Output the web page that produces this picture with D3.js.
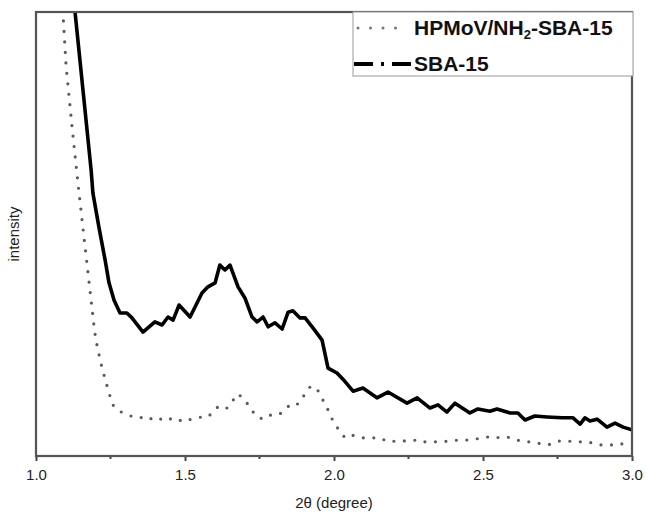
<!DOCTYPE html>
<html>
<head>
<meta charset="utf-8">
<script src="https://cdn.jsdelivr.net/npm/d3@7"></script>
<style>
  body { margin: 0; background: #fff; }
  svg { display: block; font-family: "Liberation Sans", Arial, sans-serif; }
</style>
</head>
<body>
<div id="chart"></div>
<script>
const width = 646;
const height = 515;
const margin = { top: 12, right: 14, bottom: 59, left: 36 };

// SBA-15 (solid line) : 2theta, intensity (a.u.)
const sbaTheta = [1.120, 1.131, 1.185, 1.191, 1.211, 1.232, 1.245, 1.262, 1.282, 1.305, 1.322, 1.359, 1.399, 1.423, 1.443, 1.460,
  1.480, 1.517, 1.557, 1.577, 1.601, 1.617, 1.634, 1.651, 1.678, 1.701, 1.725, 1.742, 1.762, 1.779, 1.802, 1.826,
  1.846, 1.862, 1.886, 1.903, 1.930, 1.960, 1.980, 2.010, 2.030, 2.064, 2.097, 2.144, 2.181, 2.245, 2.279, 2.322,
  2.349, 2.379, 2.406, 2.456, 2.483, 2.523, 2.547, 2.591, 2.617, 2.641, 2.674, 2.715, 2.765, 2.802, 2.826, 2.842,
  2.859, 2.883, 2.916, 2.943, 2.970, 3.000];
const sbaValue = [110.0, 100.0, 64.4, 59.2, 51.6, 44.1, 39.0, 35.1, 32.2, 32.2, 31.1, 27.9, 30.2, 29.5, 31.3, 30.6,
  34.0, 31.3, 36.7, 38.1, 39.0, 43.0, 41.9, 43.0, 38.1, 35.6, 31.3, 30.2, 31.3, 29.1, 30.0, 28.6,
  32.4, 32.7, 31.1, 31.1, 28.8, 26.1, 19.8, 18.7, 17.3, 14.6, 15.3, 13.1, 14.4, 11.9, 13.1, 10.8,
  11.5, 9.9, 11.9, 9.7, 10.6, 10.1, 10.6, 9.7, 9.7, 8.1, 9.0, 8.8, 8.6, 8.6, 7.2, 8.6,
  7.9, 8.3, 6.5, 7.4, 6.5, 5.9];

// HPMoV/NH2-SBA-15 (dotted line)
const hpmTheta = [1.087, 1.091, 1.101, 1.121, 1.134, 1.144, 1.158, 1.181, 1.195, 1.201, 1.211, 1.221, 1.245, 1.258, 1.279, 1.319,
  1.339, 1.376, 1.399, 1.436, 1.460, 1.497, 1.520, 1.557, 1.577, 1.614, 1.641, 1.678, 1.701, 1.738, 1.762, 1.795,
  1.819, 1.859, 1.879, 1.919, 1.940, 1.980, 2.000, 2.037, 2.060, 2.097, 2.121, 2.154, 2.181, 2.215, 2.238, 2.282,
  2.295, 2.332, 2.356, 2.396, 2.416, 2.456, 2.473, 2.517, 2.534, 2.581, 2.601, 2.641, 2.658, 2.698, 2.718, 2.758,
  2.775, 2.819, 2.836, 2.876, 2.896, 2.936, 2.953, 2.993];
const hpmValue = [102.7, 99.1, 87.8, 74.1, 65.8, 59.5, 51.1, 37.4, 29.1, 26.1, 23.0, 20.0, 14.2, 11.5, 10.1, 9.0,
  9.0, 8.1, 8.8, 7.9, 8.6, 7.7, 8.3, 8.8, 8.8, 11.3, 10.8, 14.0, 12.6, 9.0, 8.3, 9.5,
  9.5, 11.9, 11.7, 15.5, 15.5, 10.4, 7.4, 4.1, 4.7, 4.1, 4.1, 4.1, 3.2, 3.4, 3.4, 3.6,
  3.2, 3.2, 3.2, 3.4, 3.6, 3.6, 3.8, 4.3, 4.1, 4.3, 3.8, 3.2, 3.2, 2.7, 2.5, 3.4,
  3.4, 3.2, 3.2, 2.9, 2.5, 2.5, 2.5, 3.2];

const xTicks = [1.0, 1.5, 2.0, 2.5, 3.0];
const legendLabels = ["HPMoV/NH", "SBA-15"];

const svg = d3.select("#chart")
    .append("svg")
    .attr("width", width)
    .attr("height", height);

const x = d3.scaleLinear()
    .domain([1.0, 3.0])
    .range([margin.left, width - margin.right]);

const y = d3.scaleLinear()
    .domain([0, 100])
    .range([height - margin.bottom, margin.top]);

svg.append("clipPath")
    .attr("id", "plot-clip")
    .append("rect")
    .attr("x", margin.left)
    .attr("y", margin.top)
    .attr("width", width - margin.left - margin.right)
    .attr("height", height - margin.top - margin.bottom);

const line = d3.line()
    .x(d => x(d[0]))
    .y(d => y(d[1]));

const plot = svg.append("g").attr("clip-path", "url(#plot-clip)");

// dotted series
plot.append("path")
    .datum(d3.zip(hpmTheta, hpmValue))
    .attr("d", line)
    .attr("fill", "none")
    .attr("stroke", "#5a5a5a")
    .attr("stroke-width", 3.2)
    .attr("stroke-linecap", "round")
    .attr("stroke-dasharray", "0 10.5");

// solid series
plot.append("path")
    .datum(d3.zip(sbaTheta, sbaValue))
    .attr("d", line)
    .attr("fill", "none")
    .attr("stroke", "#000")
    .attr("stroke-width", 3.6)
    .attr("stroke-linejoin", "round");

// x axis with minor ticks
const xAxis = svg.append("g")
    .attr("transform", `translate(0,${height - margin.bottom})`)
    .call(d3.axisBottom(x).tickValues(xTicks).tickFormat(d3.format(".1f")).tickSize(5).tickPadding(8));
xAxis.select(".domain").remove();
xAxis.selectAll("text")
    .attr("font-size", 15)
    .attr("font-family", "Liberation Sans, Arial, sans-serif")
    .attr("fill", "#222");
xAxis.selectAll("line").attr("stroke", "#444").attr("stroke-width", 2);

svg.append("g")
    .attr("transform", `translate(0,${height - margin.bottom})`)
    .selectAll("line")
    .data([1.25, 1.75, 2.25, 2.75])
    .join("line")
    .attr("x1", d => x(d))
    .attr("x2", d => x(d))
    .attr("y1", 0)
    .attr("y2", 3)
    .attr("stroke", "#444")
    .attr("stroke-width", 2);

// frame
svg.append("rect")
    .attr("x", margin.left)
    .attr("y", margin.top)
    .attr("width", width - margin.left - margin.right)
    .attr("height", height - margin.top - margin.bottom)
    .attr("fill", "none")
    .attr("stroke", "#555")
    .attr("stroke-width", 2.2);

// axis titles
svg.append("text")
    .attr("x", 334)
    .attr("y", 508)
    .attr("text-anchor", "middle")
    .attr("font-size", 15)
    .attr("fill", "#222")
    .text("2θ (degree)");

svg.append("text")
    .attr("transform", `translate(19,${(margin.top + height - margin.bottom) / 2}) rotate(-90)`)
    .attr("text-anchor", "middle")
    .attr("font-size", 15)
    .attr("fill", "#222")
    .text("intensity");

// legend
const legend = svg.append("g");
legend.append("rect")
    .attr("x", 353)
    .attr("y", margin.top)
    .attr("width", 280)
    .attr("height", 64)
    .attr("fill", "#fff")
    .attr("stroke", "#999")
    .attr("stroke-width", 1);

legend.append("line")
    .attr("x1", 358).attr("x2", 408)
    .attr("y1", 28).attr("y2", 28)
    .attr("stroke", "#777")
    .attr("stroke-width", 3)
    .attr("stroke-linecap", "round")
    .attr("stroke-dasharray", "0 12.5");

legend.append("line")
    .attr("x1", 354).attr("x2", 411)
    .attr("y1", 64).attr("y2", 64)
    .attr("stroke", "#000")
    .attr("stroke-width", 4)
    .attr("stroke-dasharray", "19 8 3 8 19");

const t1 = legend.append("text")
    .attr("x", 414)
    .attr("y", 35)
    .attr("font-size", 21)
    .attr("font-weight", "bold")
    .attr("fill", "#111");
t1.append("tspan").text(legendLabels[0]);
t1.append("tspan").attr("font-size", 13).attr("dy", 4).text("2");
t1.append("tspan").attr("dy", -4).text("-SBA-15");

legend.append("text")
    .attr("x", 414)
    .attr("y", 71)
    .attr("font-size", 21)
    .attr("font-weight", "bold")
    .attr("fill", "#111")
    .text(legendLabels[1]);
</script>
</body>
</html>
